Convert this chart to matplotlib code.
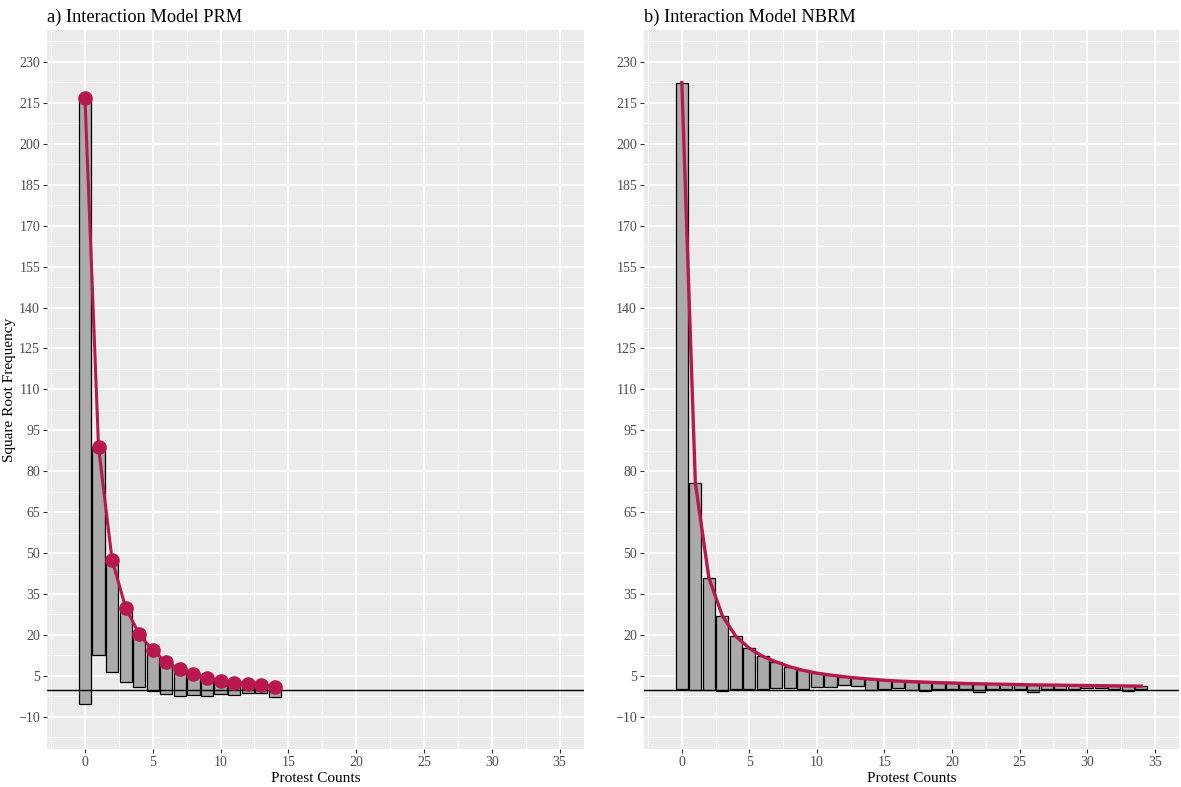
"""
Hanging rootograms for the two interaction count models (PRM vs NBRM).
"""

import matplotlib

matplotlib.use("Agg")
import matplotlib.pyplot as plt
import numpy as np
from matplotlib.ticker import MultipleLocator

# square-root observed frequencies, counts 0..34
counts = np.arange(35)
observed_sqrt = [
    222.2, 76.0, 41.2, 27.4, 19.2, 14.8, 11.8, 9.7, 7.7, 6.8,
    5.0, 4.5, 3.2, 2.9, 3.9, 3.1, 2.4, 2.9, 3.3, 2.3,
    2.2, 2.0, 2.9, 1.7, 1.7, 1.6, 2.5, 1.4, 1.4, 1.2,
    1.0, 1.0, 1.0, 1.8, 1.0,
]

# square-root expected frequencies, Poisson model (counts 0..14)
prm_counts = np.arange(15)
expected_prm = [
    216.8, 88.8, 47.5, 30.0, 20.3, 14.3, 10.1, 7.4, 5.7, 4.4,
    3.3, 2.5, 2.1, 1.6, 1.1,
]

# square-root expected frequencies, negative binomial model (counts 0..34)
expected_nbrm = [
    222.4, 75.7, 41.0, 27.0, 19.5, 15.1, 12.1, 10.1, 8.3, 7.0,
    6.0, 5.3, 4.7, 4.2, 3.8, 3.4, 3.1, 2.9, 2.7, 2.5,
    2.4, 2.2, 2.1, 2.0, 1.9, 1.8, 1.7, 1.65, 1.6, 1.5,
    1.45, 1.4, 1.35, 1.3, 1.25,
]

panel_titles = ["a) Interaction Model PRM", "b) Interaction Model NBRM"]

W, H = 1181, 787
RED = "#B8184F"
SERIF = "Liberation Serif"


def _style_panel(ax):
    ax.set_facecolor("#EBEBEB")
    ax.set_xlim(-2.8, 36.8)
    ax.set_ylim(-21.8, 241.7)
    ax.xaxis.set_major_locator(MultipleLocator(5))
    ax.xaxis.set_minor_locator(MultipleLocator(2.5))
    ax.set_yticks(np.arange(-10, 231, 15))
    ax.set_yticks(np.arange(-17.5, 240, 15), minor=True)
    ax.grid(which="major", color="white", linewidth=1.4)
    ax.grid(which="minor", color="white", linewidth=0.7)
    ax.set_axisbelow(True)
    for spine in ax.spines.values():
        spine.set_visible(False)
    ax.tick_params(which="major", length=3, width=0.8, color="#333333",
                   labelcolor="#4D4D4D", labelsize=10, pad=2)
    ax.tick_params(which="minor", length=0)
    for label in ax.get_xticklabels() + ax.get_yticklabels():
        label.set_family(SERIF)
    ax.axhline(0.0, color="black", linewidth=1.0, zorder=3)
    ax.set_xlabel("Protest Counts", family=SERIF, fontsize=11, labelpad=2)


def _hanging_bars(ax, x, expected, observed):
    expected = np.asarray(expected)
    observed = np.asarray(observed)
    bottom = expected - observed
    ax.bar(x, observed, bottom=bottom, width=0.9, color="#AAAAAA",
           edgecolor="black", linewidth=0.9, zorder=2)


fig = plt.figure(figsize=(W / 100, H / 100), dpi=100)
ax_prm = fig.add_axes([47 / W, 38 / H, (584 - 47) / W, (749 - 30) / H])
ax_nb = fig.add_axes([644 / W, 38 / H, (1179 - 644) / W, (749 - 30) / H])

# a) Poisson
_style_panel(ax_prm)
_hanging_bars(ax_prm, prm_counts, expected_prm, observed_sqrt[:len(prm_counts)])
ax_prm.plot(prm_counts, expected_prm, color=RED, linewidth=2.2, zorder=4)
ax_prm.plot(prm_counts, expected_prm, "o", color=RED, markersize=9.5, zorder=5)
ax_prm.set_ylabel("Square Root Frequency", family=SERIF, fontsize=11, labelpad=2)

# b) negative binomial
_style_panel(ax_nb)
_hanging_bars(ax_nb, counts, expected_nbrm, observed_sqrt)
ax_nb.plot(counts, expected_nbrm, color=RED, linewidth=2.4, zorder=4)

for ax, title in zip([ax_prm, ax_nb], panel_titles):
    ax.set_title(title, loc="left", family=SERIF, fontsize=13.2, pad=6)

fig.savefig("out.png", dpi=100)
